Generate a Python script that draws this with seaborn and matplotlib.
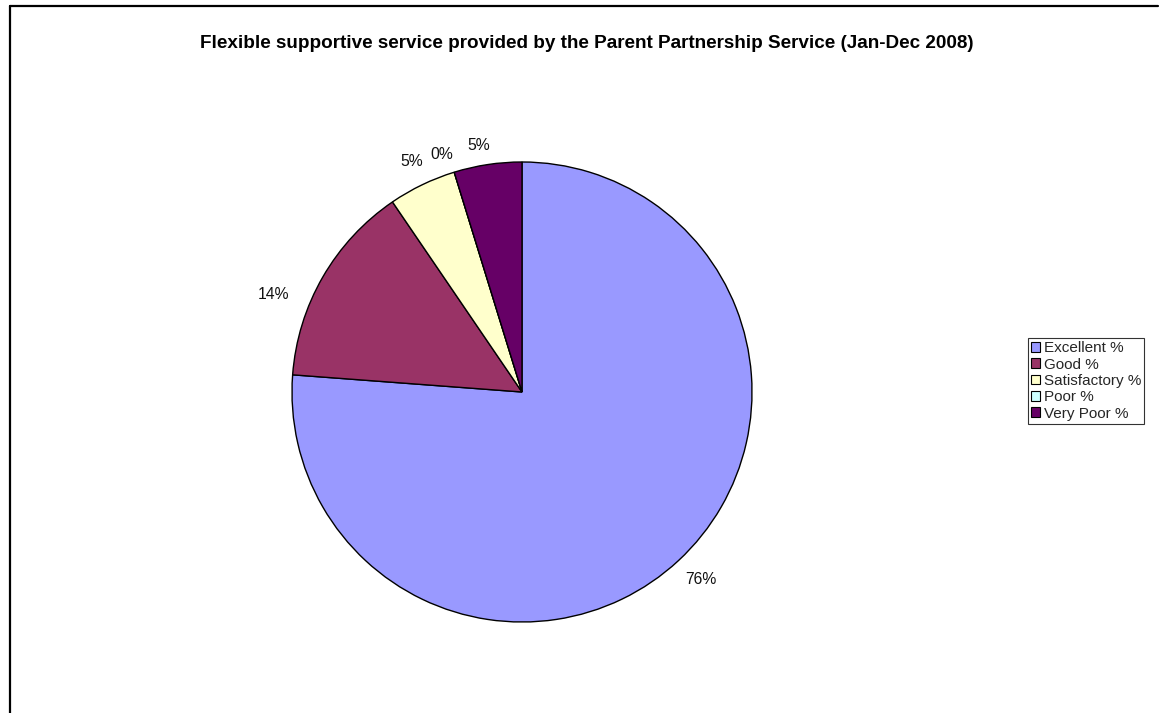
import numpy as np
import matplotlib
matplotlib.use("Agg")
import matplotlib.pyplot as plt
from matplotlib.patches import Patch
from matplotlib.lines import Line2D
import seaborn as sns

categories = ["Excellent %", "Good %", "Satisfactory %", "Poor %", "Very Poor %"]
values = [76.19, 14.29, 4.76, 0, 4.76]
pct_labels = ["76%", "14%", "5%", "0%", "5%"]
colors = ["#9999FF", "#993366", "#FFFFCC", "#CCFFFF", "#660066"]

sns.set_theme(style="white")
plt.rcParams['font.family'] = ['Liberation Sans', 'DejaVu Sans']

W, H = 1159, 713
fig = plt.figure(figsize=(W / 100, H / 100), dpi=100)
fig.patch.set_facecolor("white")

cx, cy, r = 522, 392, 230
ax = fig.add_axes([(cx - r) / W, (H - cy - r) / H, 2 * r / W, 2 * r / H])
wedges, _ = ax.pie(values, colors=colors, startangle=90, counterclock=False,
                   wedgeprops=dict(edgecolor="black", linewidth=1.0), radius=1.0)
ax.set_xlim(-1, 1)
ax.set_ylim(-1, 1)
ax.set_aspect("equal")
ax.axis("off")

# data labels placed outside each slice near its mid-angle
angle_nudge = [0.9, 8.5, 0, 1.5, 1.5]
dist = [1.126, 1.16, 1.11, 1.09, 1.09]
for w, lab, dn, d in zip(wedges, pct_labels, angle_nudge, dist):
    mid = np.deg2rad((w.theta1 + w.theta2) / 2 + dn)
    ax.text(d * np.cos(mid), d * np.sin(mid), lab, ha="center", va="center",
            fontsize=11.3, color="#111111")

fig.text(587 / W, 1 - 44 / H,
         "Flexible supportive service provided by the Parent Partnership Service (Jan-Dec 2008)",
         ha="center", va="center", fontsize=13.6, fontweight="bold", color="black")

handles = [Patch(facecolor=c, edgecolor="black", linewidth=0.8) for c in colors]
leg = fig.legend(handles, categories, loc="center left",
                 bbox_to_anchor=(1028 / W, 1 - 381 / H), frameon=True, fancybox=False,
                 edgecolor="black", fontsize=11, handlelength=0.6, handleheight=0.6,
                 handletextpad=0.25, labelspacing=0.15, borderpad=0.2, borderaxespad=0)
leg.get_frame().set_linewidth(0.8)

# outer chart-area border (top and left visible)
fig.add_artist(Line2D([10 / W, 1158 / W], [1 - 6 / H, 1 - 6 / H], color="black", linewidth=1.6,
                      transform=fig.transFigure))
fig.add_artist(Line2D([10 / W, 10 / W], [1 - 6 / H, 0], color="black", linewidth=1.6,
                      transform=fig.transFigure))

fig.savefig("out.png", dpi=100, facecolor="white")
